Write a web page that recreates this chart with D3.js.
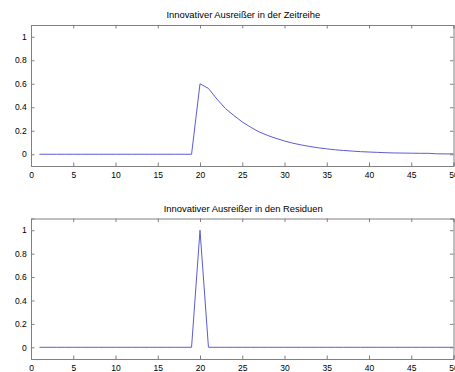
<!DOCTYPE html>
<html>
<head>
<meta charset="utf-8">
<script src="https://cdnjs.cloudflare.com/ajax/libs/d3/7.8.5/d3.min.js"></script>
<style>
  body { margin: 0; background: #fff; }
  svg text { font-family: "Liberation Sans", Arial, sans-serif; fill: #000; }
</style>
</head>
<body>
<script>
// time index 1..50
const xs = d3.range(1, 51);

// innovative outlier in the time series
const zeitreihe = [
  0, 0, 0, 0, 0, 0, 0, 0, 0, 0,
  0, 0, 0, 0, 0, 0, 0, 0, 0, 0.60,
  0.56, 0.47, 0.39, 0.33, 0.275, 0.23, 0.19, 0.16, 0.135, 0.113,
  0.094, 0.079, 0.066, 0.055, 0.046, 0.038, 0.032, 0.027, 0.022, 0.019,
  0.016, 0.013, 0.011, 0.010, 0.009, 0.008, 0.008, 0.004, 0.003, 0.003
];

// innovative outlier in the residuals
const residuen = xs.map(d => d === 20 ? 1 : 0);

const titles = ["Innovativer Ausreißer in der Zeitreihe", "Innovativer Ausreißer in den Residuen"];
const xTicks = [0, 5, 10, 15, 20, 25, 30, 35, 40, 45, 50];
const yTicks = [0, 0.2, 0.4, 0.6, 0.8, 1];

const W = 455, H = 372;
const svg = d3.select("body").append("svg")
    .attr("width", W)
    .attr("height", H);

const panels = [
  {top: 25, bottom: 166, data: zeitreihe, title: titles[0]},
  {top: 218.5, bottom: 359, data: residuen, title: titles[1]}
];
const left = 31, right = 453.5;

const x = d3.scaleLinear().domain([0, 50]).range([left, right]);

panels.forEach(p => {
  const y = d3.scaleLinear().domain([-0.1, 1.1]).range([p.bottom, p.top]);
  const g = svg.append("g");

  // line
  const line = d3.line().x((d, i) => x(xs[i])).y(d => y(d));
  g.append("path")
    .datum(p.data)
    .attr("d", line)
    .attr("fill", "none")
    .attr("stroke", "#5c5cd2")
    .attr("stroke-width", 1);

  // axes with inward ticks (matlab style)
  const fmt = d => String(d);
  const bottomAx = d3.axisBottom(x).tickValues(xTicks).tickSize(-3.5).tickPadding(5.5).tickFormat(fmt);
  const topAx = d3.axisTop(x).tickValues(xTicks).tickSize(-3.5).tickFormat("");
  const leftAx = d3.axisLeft(y).tickValues(yTicks).tickSize(-3.5).tickPadding(4.3).tickFormat(fmt);
  const rightAx = d3.axisRight(y).tickValues(yTicks).tickSize(-3.5).tickFormat("");

  const axes = [
    g.append("g").attr("transform", `translate(0,${p.bottom})`).call(bottomAx),
    g.append("g").attr("transform", `translate(0,${p.top})`).call(topAx),
    g.append("g").attr("transform", `translate(${left},0)`).call(leftAx),
    g.append("g").attr("transform", `translate(${right},0)`).call(rightAx)
  ];
  axes.forEach(a => {
    a.selectAll(".domain").attr("stroke", "#808080");
    a.selectAll(".tick line").attr("stroke", "#808080");
    a.selectAll("text").style("font-size", "8.5px").attr("fill", "#000")
      .style("font-family", "'Liberation Sans', Arial, sans-serif");
  });

  g.append("text")
    .attr("x", (left + right) / 2 + 1)
    .attr("y", p.top - 6.7)
    .attr("text-anchor", "middle")
    .style("font-size", "9.4px")
    .text(p.title);
});
</script>
</body>
</html>
